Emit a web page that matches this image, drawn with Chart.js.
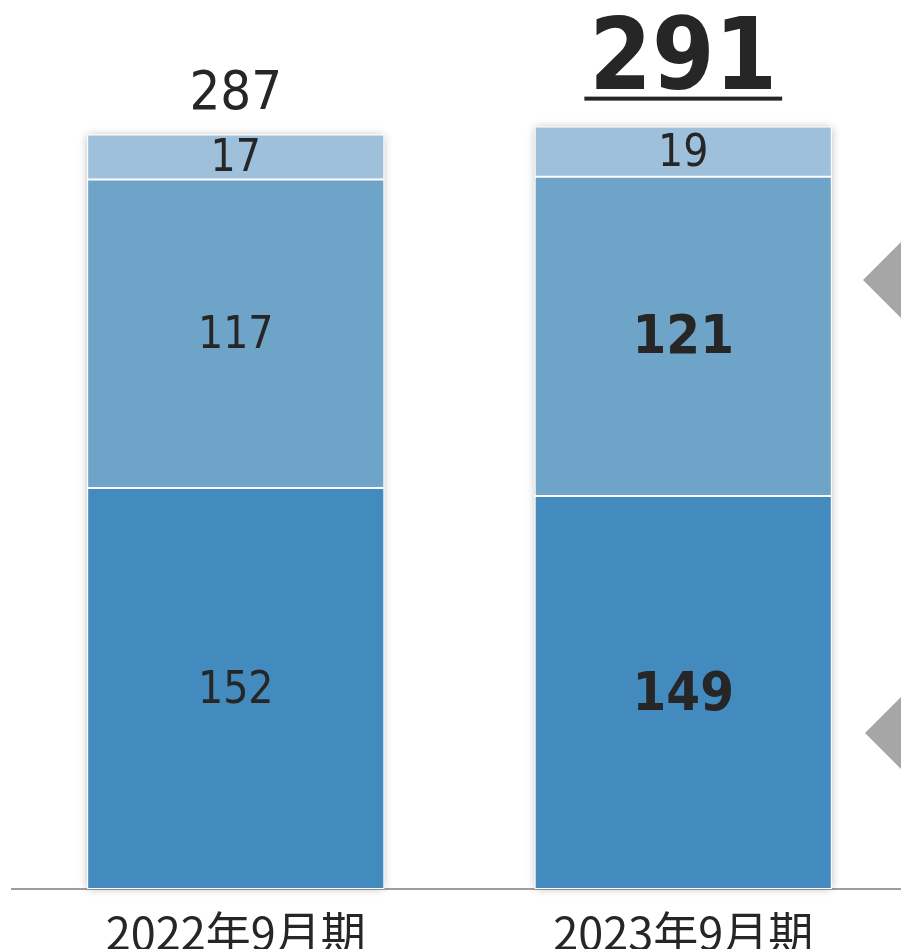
<!DOCTYPE html>
<html lang="ja">
<head>
<meta charset="utf-8">
<title>期末人数推移</title>
<script src="https://cdn.jsdelivr.net/npm/chart.js@4.4.1/dist/chart.umd.min.js"></script>
<style>
  html, body { margin: 0; padding: 0; background: #fff; overflow: hidden; }
  #wrap { width: 907px; height: 949px; overflow: hidden; }
</style>
</head>
<body>
<div id="wrap"><canvas id="chart" width="907" height="976"></canvas></div>
<script>
// Periods and the three stacked components (bottom → top)
const categories = ['2022年9月期', '2023年9月期'];
const baseValues = [152, 149];
const middleValues = [117, 121];
const topValues = [17, 19];
const totals = [287, 291];

const INK = '#262626';
const NUM_FONT = "'DejaVu Sans Condensed', 'DejaVu Sans', sans-serif";
const LATEST = categories.length - 1;

// soft drop shadow behind each full stack
const stackShadow = {
  id: 'stackShadow',
  beforeDatasetsDraw(chart) {
    const first = chart.getDatasetMeta(0).data;
    const last = chart.getDatasetMeta(chart.data.datasets.length - 1).data;
    const ctx = chart.ctx;
    ctx.save();
    ctx.shadowColor = 'rgba(0,0,0,0.28)';
    ctx.shadowBlur = 9;
    ctx.fillStyle = '#fff';
    first.forEach((bar, i) => {
      const b = bar.getProps(['x', 'base', 'width'], true);
      const top = last[i].getProps(['y'], true).y;
      ctx.fillRect(b.x - b.width / 2, top, b.width, b.base - top);
    });
    ctx.restore();
  }
};

// value inside each segment, total above each stack
const valueLabels = {
  id: 'valueLabels',
  afterDatasetsDraw(chart) {
    const ctx = chart.ctx;
    ctx.save();
    ctx.fillStyle = INK;
    ctx.textAlign = 'center';
    chart.data.datasets.forEach((ds, di) => {
      chart.getDatasetMeta(di).data.forEach((bar, i) => {
        const p = bar.getProps(['x', 'y', 'base'], true);
        const strong = ds.emphasis && i === LATEST;
        ctx.font = (strong ? 'bold 54px ' : '44px ') + NUM_FONT;
        ctx.textBaseline = 'middle';
        ctx.fillText(String(ds.data[i]), p.x, (p.y + p.base) / 2 + 3);
      });
    });

    const topMeta = chart.getDatasetMeta(chart.data.datasets.length - 1).data;
    topMeta.forEach((bar, i) => {
      const p = bar.getProps(['x', 'y'], true);
      ctx.textBaseline = 'alphabetic';
      const txt = String(totals[i]);
      if (i === LATEST) {
        ctx.font = 'bold 100px ' + NUM_FONT;
        const base = p.y - 38;
        ctx.fillText(txt, p.x, base);
        const w = ctx.measureText(txt).width;
        ctx.fillRect(p.x - w / 2 - 5, base + 8, w + 10, 4);
      } else {
        ctx.font = '54px ' + NUM_FONT;
        ctx.fillText(txt, p.x, p.y - 26);
      }
    });
    ctx.restore();
  }
};

// grey pointers on the right edge
const sidePointers = {
  id: 'sidePointers',
  afterDraw(chart) {
    const ctx = chart.ctx;
    ctx.save();
    ctx.fillStyle = '#a6a6a6';
    [[863, 280], [865, 733]].forEach(([tx, ty]) => {
      ctx.beginPath();
      ctx.moveTo(tx, ty);
      ctx.lineTo(tx + 44, ty - 44);
      ctx.lineTo(tx + 44, ty + 44);
      ctx.closePath();
      ctx.fill();
    });
    ctx.restore();
  }
};

const segBorder = { top: 1, bottom: 1, left: 1, right: 1 };

new Chart(document.getElementById('chart'), {
  type: 'bar',
  data: {
    labels: categories,
    datasets: [
      { data: baseValues, backgroundColor: '#438bbf', emphasis: true },
      { data: middleValues, backgroundColor: '#6ea4c8', emphasis: true },
      { data: topValues, backgroundColor: '#9fc0da', emphasis: false },
    ].map(d => Object.assign(d, {
      borderColor: '#ffffff',
      borderWidth: segBorder,
      borderSkipped: false,
      barPercentage: 1,
      categoryPercentage: 0.664,
    })),
  },
  options: {
    responsive: false,
    animation: false,
    layout: { padding: { left: 12, right: 0, top: 0, bottom: 0 } },
    plugins: { legend: { display: false }, tooltip: { enabled: false } },
    scales: {
      x: {
        stacked: true,
        grid: { display: false, drawTicks: false },
        border: { display: true, color: '#9e9e9e', width: 2 },
        ticks: {
          color: INK,
          padding: 21,
          font: { family: "'Noto Sans CJK JP', 'Noto Sans', sans-serif", size: 45, lineHeight: 1 },
        },
      },
      y: { stacked: true, display: false, min: 0, max: 337 },
    },
  },
  plugins: [stackShadow, valueLabels, sidePointers],
});
</script>
</body>
</html>
